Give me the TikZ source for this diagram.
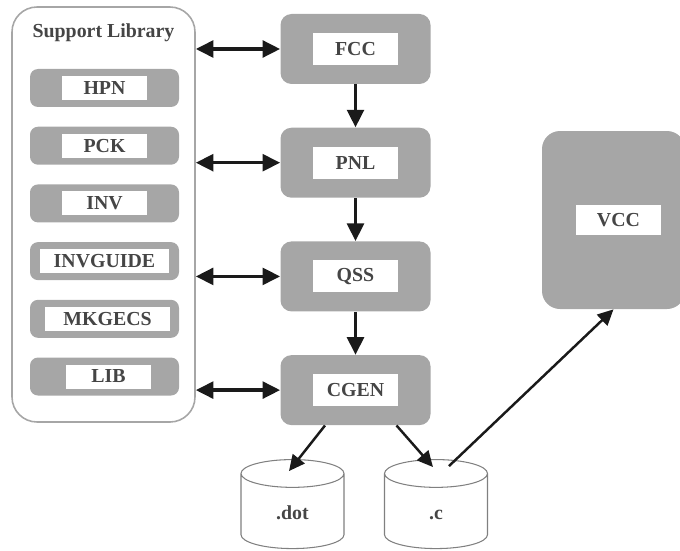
\documentclass[tikz,border=0pt]{standalone}
\usepackage{fontspec}
\setmainfont{Liberation Serif}
\usepackage{tikz}
\usetikzlibrary{shapes.geometric,arrows.meta,positioning,calc}
\definecolor{boxgray}{HTML}{A6A6A6}
\definecolor{textgray}{HTML}{454545}
\definecolor{inkblack}{HTML}{1A1A1A}

\begin{document}
\begin{tikzpicture}[
    node distance=0.86cm,
    font=\fontsize{11.3}{13}\selectfont\bfseries,
    text=textgray,
    stage/.style={rectangle, fill=boxgray, rounded corners=0.22cm, minimum width=3cm, minimum height=1.4cm},
    tag/.style={rectangle, fill=white, minimum width=1.7cm, minimum height=0.64cm, inner sep=0pt},
    module/.style={rectangle, fill=boxgray, rounded corners=0.16cm, minimum width=2.98cm, minimum height=0.76cm},
    modtag/.style={rectangle, fill=white, minimum width=1.7cm, minimum height=0.48cm, inner sep=0pt},
    store/.style={cylinder, shape border rotate=90, draw=gray, line width=0.6pt, aspect=0.34,
        text width=1.4cm, align=center, text height=0.3cm, text depth=0.1cm,
        minimum width=2.06cm, minimum height=1.78cm},
    dataflow/.style={-{Triangle[length=10pt,width=9.5pt]}, line width=2pt, draw=inkblack},
    duplex/.style={{Triangle[length=10pt,width=9.5pt]}-{Triangle[length=10pt,width=9.5pt]}, line width=2pt, draw=inkblack},
    output/.style={-{Triangle[length=9pt,width=8.5pt]}, line width=1.4pt, draw=inkblack}
]
\useasboundingbox (0,0) rectangle (13.6,-11);

% support library
\node[draw=boxgray, line width=0.9pt, rounded corners=0.5cm, minimum width=3.66cm, minimum height=8.3cm] (suplib) at (2.07,-4.29) {};
\node (suptitle) at (2.07,-0.66) {Support Library};
\node[module] (hpn) at (2.09,-1.76) {};
\node[module, below=0.38cm of hpn] (pck) {};
\node[module, below=0.38cm of pck] (inv) {};
\node[module, below=0.38cm of inv] (invguide) {};
\node[module, below=0.38cm of invguide] (mkgecs) {};
\node[module, below=0.38cm of mkgecs] (lib) {};
\node[modtag] (hpn-t) at (hpn) {HPN};
\node[modtag] (pck-t) at (pck) {PCK};
\node[modtag] (inv-t) at (inv) {INV};
\node[modtag, minimum width=2.58cm] (invguide-t) at (invguide) {INVGUIDE};
\node[modtag, minimum width=2.5cm] (mkgecs-t) at ([xshift=0.06cm]mkgecs.center) {MKGECS};
\node[modtag] (lib-t) at ([xshift=0.08cm]lib.center) {LIB};

% compiler stages
\node[stage] (fcc) at (7.11,-0.98) {};
\node[stage, below=of fcc] (pnl) {};
\node[stage, below=of pnl] (qss) {};
\node[stage, below=of qss] (cgen) {};
\node[tag] (fcc-t) at (fcc) {FCC};
\node[tag] (pnl-t) at (pnl) {PNL};
\node[tag] (qss-t) at (qss) {QSS};
\node[tag] (cgen-t) at (cgen) {CGEN};

% outputs
\node[store] (dot) at (5.85,-10.29) {.dot};
\node[store] (cfile) at (8.72,-10.29) {.c};
\node[stage, rounded corners=0.36cm, minimum width=2.86cm, minimum height=3.56cm] (vcc) at (12.27,-4.4) {};
\node[tag, minimum height=0.6cm] (vcc-t) at ([xshift=0.1cm]vcc.center) {VCC};

\draw[dataflow] (fcc) -- (pnl);
\draw[dataflow] (pnl) -- (qss);
\draw[dataflow] (qss) -- (cgen);
\foreach \s in {fcc,pnl,qss,cgen}
    \draw[duplex] (\s.west -| suplib.east) -- (\s.west);
\draw[output] ([xshift=-0.61cm]cgen.south) -- ([xshift=-0.07cm,yshift=-0.24cm]dot.north);
\draw[output] ([xshift=0.82cm]cgen.south) -- ([xshift=-0.06cm,yshift=-0.16cm]cfile.north);
\draw[output] ([xshift=0.26cm,yshift=-0.14cm]cfile.north) -- (vcc.south);

\end{tikzpicture}
\end{document}
